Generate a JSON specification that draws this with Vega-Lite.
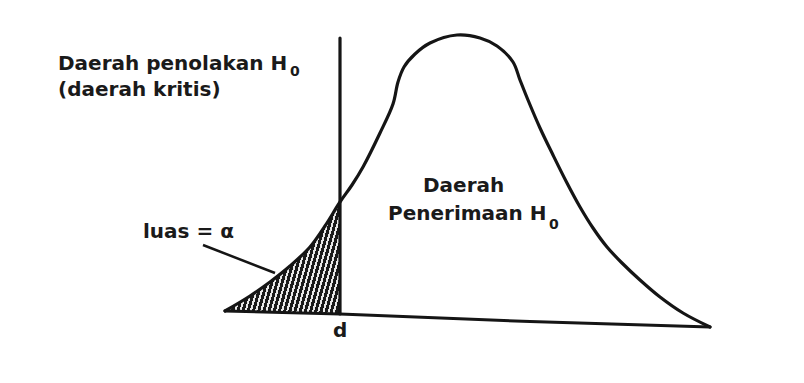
{
  "$schema": "https://vega.github.io/schema/vega-lite/v6.json",
  "width": 804,
  "height": 383,
  "autosize": {"type": "fit", "contains": "padding"},
  "padding": 0,
  "background": "#ffffff",
  "config": {"view": {"stroke": null}},
  "datasets": {
    "curve": [
      {"x": -2.875, "y": 0.03}, {"x": -2.25, "y": 0.18}, {"x": -1.75, "y": 0.32},
      {"x": -1.25, "y": 0.48}, {"x": -0.75, "y": 0.67}, {"x": -0.375, "y": 0.88},
      {"x": 0, "y": 1.12}, {"x": 0.3, "y": 1.29}, {"x": 0.575, "y": 1.47},
      {"x": 1.0, "y": 1.81}, {"x": 1.325, "y": 2.1}, {"x": 1.45, "y": 2.32},
      {"x": 1.6, "y": 2.47}, {"x": 1.875, "y": 2.6}, {"x": 2.25, "y": 2.71},
      {"x": 2.925, "y": 2.79}, {"x": 3.5, "y": 2.76}, {"x": 3.925, "y": 2.68},
      {"x": 4.325, "y": 2.52}, {"x": 4.5, "y": 2.34}, {"x": 4.7, "y": 2.14},
      {"x": 5.0, "y": 1.86}, {"x": 5.325, "y": 1.59}, {"x": 5.675, "y": 1.31},
      {"x": 6.0, "y": 1.07}, {"x": 6.325, "y": 0.86}, {"x": 6.675, "y": 0.67},
      {"x": 7.05, "y": 0.51}, {"x": 7.5, "y": 0.34}, {"x": 8.0, "y": 0.17},
      {"x": 8.575, "y": 0.01}, {"x": 9.25, "y": -0.13}
    ],
    "tail": [
      {"x": -2.875, "y": 0.03, "y2": 0.03},
      {"x": -2.25, "y": 0.18, "y2": 0.0235},
      {"x": -1.75, "y": 0.32, "y2": 0.0183},
      {"x": -1.25, "y": 0.48, "y2": 0.013},
      {"x": -0.75, "y": 0.67, "y2": 0.0078},
      {"x": -0.375, "y": 0.88, "y2": 0.0039},
      {"x": 0, "y": 1.12, "y2": 0}
    ],
    "base": [
      {"x": -2.875, "y": 0.03}, {"x": 0, "y": 0}, {"x": 4.75, "y": -0.075}, {"x": 9.25, "y": -0.13}
    ],
    "critical": [{"x": 0, "y": 0, "y2": 2.76}],
    "pointer": [{"x": -3.425, "y": 0.69, "x2": -1.625, "y2": 0.41}],
    "labels": [
      {"x": -7.05, "y": 2.44, "text": "Daerah penolakan H"},
      {"x": -7.05, "y": 2.18, "text": "(daerah kritis)"},
      {"x": 2.075, "y": 1.22, "text": "Daerah"},
      {"x": 1.2, "y": 0.94, "text": "Penerimaan H"},
      {"x": -4.925, "y": 0.76, "text": "luas = α"},
      {"x": -0.175, "y": -0.23, "text": "d"}
    ],
    "subscripts": [
      {"x": -1.25, "y": 2.38, "text": "0"},
      {"x": 5.225, "y": 0.85, "text": "0"}
    ]
  },
  "encoding": {
    "x": {"field": "x", "type": "quantitative", "axis": null,
          "scale": {"domain": [-8.5, 11.6], "nice": false, "zero": false}},
    "y": {"field": "y", "type": "quantitative", "axis": null,
          "scale": {"domain": [-0.69, 3.14], "nice": false, "zero": false}}
  },
  "layer": [
    {
      "data": {"name": "tail"},
      "mark": {
        "type": "area",
        "interpolate": "catmull-rom",
        "fill": {
          "gradient": "linear", "x1": 0, "y1": 0, "x2": 1.18, "y2": 0.32,
          "stops": [
            {"offset": 0, "color": "#1a1a1a"}, {"offset": 0.0214, "color": "#1a1a1a"}, {"offset": 0.0214, "color": "#e8e8e8"}, {"offset": 0.0357, "color": "#e8e8e8"},
            {"offset": 0.0357, "color": "#1a1a1a"}, {"offset": 0.0571, "color": "#1a1a1a"}, {"offset": 0.0571, "color": "#e8e8e8"}, {"offset": 0.0714, "color": "#e8e8e8"},
            {"offset": 0.0714, "color": "#1a1a1a"}, {"offset": 0.0929, "color": "#1a1a1a"}, {"offset": 0.0929, "color": "#e8e8e8"}, {"offset": 0.1071, "color": "#e8e8e8"},
            {"offset": 0.1071, "color": "#1a1a1a"}, {"offset": 0.1286, "color": "#1a1a1a"}, {"offset": 0.1286, "color": "#e8e8e8"}, {"offset": 0.1429, "color": "#e8e8e8"},
            {"offset": 0.1429, "color": "#1a1a1a"}, {"offset": 0.1643, "color": "#1a1a1a"}, {"offset": 0.1643, "color": "#e8e8e8"}, {"offset": 0.1786, "color": "#e8e8e8"},
            {"offset": 0.1786, "color": "#1a1a1a"}, {"offset": 0.2, "color": "#1a1a1a"}, {"offset": 0.2, "color": "#e8e8e8"}, {"offset": 0.2143, "color": "#e8e8e8"},
            {"offset": 0.2143, "color": "#1a1a1a"}, {"offset": 0.2357, "color": "#1a1a1a"}, {"offset": 0.2357, "color": "#e8e8e8"}, {"offset": 0.25, "color": "#e8e8e8"},
            {"offset": 0.25, "color": "#1a1a1a"}, {"offset": 0.2714, "color": "#1a1a1a"}, {"offset": 0.2714, "color": "#e8e8e8"}, {"offset": 0.2857, "color": "#e8e8e8"},
            {"offset": 0.2857, "color": "#1a1a1a"}, {"offset": 0.3071, "color": "#1a1a1a"}, {"offset": 0.3071, "color": "#e8e8e8"}, {"offset": 0.3214, "color": "#e8e8e8"},
            {"offset": 0.3214, "color": "#1a1a1a"}, {"offset": 0.3429, "color": "#1a1a1a"}, {"offset": 0.3429, "color": "#e8e8e8"}, {"offset": 0.3571, "color": "#e8e8e8"},
            {"offset": 0.3571, "color": "#1a1a1a"}, {"offset": 0.3786, "color": "#1a1a1a"}, {"offset": 0.3786, "color": "#e8e8e8"}, {"offset": 0.3929, "color": "#e8e8e8"},
            {"offset": 0.3929, "color": "#1a1a1a"}, {"offset": 0.4143, "color": "#1a1a1a"}, {"offset": 0.4143, "color": "#e8e8e8"}, {"offset": 0.4286, "color": "#e8e8e8"},
            {"offset": 0.4286, "color": "#1a1a1a"}, {"offset": 0.45, "color": "#1a1a1a"}, {"offset": 0.45, "color": "#e8e8e8"}, {"offset": 0.4643, "color": "#e8e8e8"},
            {"offset": 0.4643, "color": "#1a1a1a"}, {"offset": 0.4857, "color": "#1a1a1a"}, {"offset": 0.4857, "color": "#e8e8e8"}, {"offset": 0.5, "color": "#e8e8e8"},
            {"offset": 0.5, "color": "#1a1a1a"}, {"offset": 0.5214, "color": "#1a1a1a"}, {"offset": 0.5214, "color": "#e8e8e8"}, {"offset": 0.5357, "color": "#e8e8e8"},
            {"offset": 0.5357, "color": "#1a1a1a"}, {"offset": 0.5571, "color": "#1a1a1a"}, {"offset": 0.5571, "color": "#e8e8e8"}, {"offset": 0.5714, "color": "#e8e8e8"},
            {"offset": 0.5714, "color": "#1a1a1a"}, {"offset": 0.5929, "color": "#1a1a1a"}, {"offset": 0.5929, "color": "#e8e8e8"}, {"offset": 0.6071, "color": "#e8e8e8"},
            {"offset": 0.6071, "color": "#1a1a1a"}, {"offset": 0.6286, "color": "#1a1a1a"}, {"offset": 0.6286, "color": "#e8e8e8"}, {"offset": 0.6429, "color": "#e8e8e8"},
            {"offset": 0.6429, "color": "#1a1a1a"}, {"offset": 0.6643, "color": "#1a1a1a"}, {"offset": 0.6643, "color": "#e8e8e8"}, {"offset": 0.6786, "color": "#e8e8e8"},
            {"offset": 0.6786, "color": "#1a1a1a"}, {"offset": 0.7, "color": "#1a1a1a"}, {"offset": 0.7, "color": "#e8e8e8"}, {"offset": 0.7143, "color": "#e8e8e8"},
            {"offset": 0.7143, "color": "#1a1a1a"}, {"offset": 0.7357, "color": "#1a1a1a"}, {"offset": 0.7357, "color": "#e8e8e8"}, {"offset": 0.75, "color": "#e8e8e8"},
            {"offset": 0.75, "color": "#1a1a1a"}, {"offset": 0.7714, "color": "#1a1a1a"}, {"offset": 0.7714, "color": "#e8e8e8"}, {"offset": 0.7857, "color": "#e8e8e8"},
            {"offset": 0.7857, "color": "#1a1a1a"}, {"offset": 0.8071, "color": "#1a1a1a"}, {"offset": 0.8071, "color": "#e8e8e8"}, {"offset": 0.8214, "color": "#e8e8e8"},
            {"offset": 0.8214, "color": "#1a1a1a"}, {"offset": 0.8429, "color": "#1a1a1a"}, {"offset": 0.8429, "color": "#e8e8e8"}, {"offset": 0.8571, "color": "#e8e8e8"},
            {"offset": 0.8571, "color": "#1a1a1a"}, {"offset": 0.8786, "color": "#1a1a1a"}, {"offset": 0.8786, "color": "#e8e8e8"}, {"offset": 0.8929, "color": "#e8e8e8"},
            {"offset": 0.8929, "color": "#1a1a1a"}, {"offset": 0.9143, "color": "#1a1a1a"}, {"offset": 0.9143, "color": "#e8e8e8"}, {"offset": 0.9286, "color": "#e8e8e8"},
            {"offset": 0.9286, "color": "#1a1a1a"}, {"offset": 0.95, "color": "#1a1a1a"}, {"offset": 0.95, "color": "#e8e8e8"}, {"offset": 0.9643, "color": "#e8e8e8"},
            {"offset": 0.9643, "color": "#1a1a1a"}, {"offset": 1, "color": "#1a1a1a"}
          ]
        }
      },
      "encoding": {"y2": {"field": "y2"}}
    },
    {
      "data": {"name": "curve"},
      "mark": {"type": "line", "interpolate": "catmull-rom", "color": "#151515", "strokeWidth": 3.2, "strokeCap": "round", "strokeJoin": "round"},
      "encoding": {"order": {"field": "x", "type": "quantitative"}}
    },
    {
      "data": {"name": "base"},
      "mark": {"type": "line", "color": "#151515", "strokeWidth": 3, "strokeCap": "round"},
      "encoding": {"order": {"field": "x", "type": "quantitative"}}
    },
    {
      "data": {"name": "critical"},
      "mark": {"type": "rule", "color": "#151515", "strokeWidth": 3.2, "strokeCap": "round"},
      "encoding": {"y2": {"field": "y2"}}
    },
    {
      "data": {"name": "pointer"},
      "mark": {"type": "rule", "color": "#151515", "strokeWidth": 2.5},
      "encoding": {"x2": {"field": "x2"}, "y2": {"field": "y2"}}
    },
    {
      "data": {"name": "labels"},
      "mark": {"type": "text", "align": "left", "baseline": "alphabetic", "font": "DejaVu Sans", "fontWeight": "bold", "fontSize": 20, "color": "#1a1a1a"},
      "encoding": {"text": {"field": "text"}}
    },
    {
      "data": {"name": "subscripts"},
      "mark": {"type": "text", "align": "left", "baseline": "alphabetic", "font": "DejaVu Sans", "fontWeight": "bold", "fontSize": 14, "color": "#1a1a1a"},
      "encoding": {"text": {"field": "text"}}
    }
  ]
}
